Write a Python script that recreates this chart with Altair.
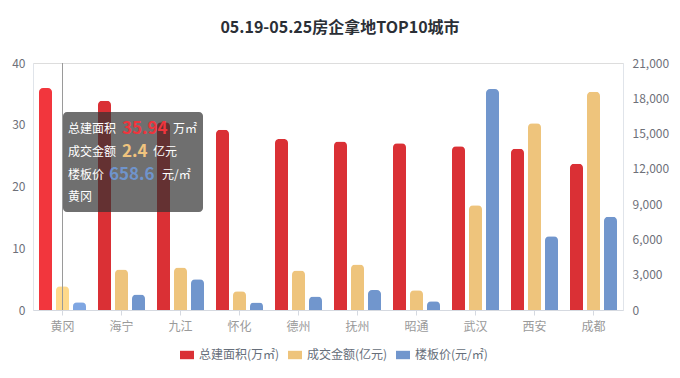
import altair as alt
import pandas as pd

cities = ["黄冈", "海宁", "九江", "怀化", "德州", "抚州", "昭通", "武汉", "西安", "成都"]
area = [35.94, 33.9, 30.4, 29.2, 27.7, 27.3, 27.0, 26.5, 26.1, 23.7]
amount = [2.4, 4.1, 4.3, 1.9, 4.0, 4.6, 2.0, 10.6, 18.9, 22.1]
price = [658.6, 1310, 2620, 630, 1140, 1700, 740, 18780, 6280, 7930]
series = ["总建面积(万㎡)", "成交金额(亿元)", "楼板价(元/㎡)"]
colors = ["#DA3035", "#EEC47C", "#7196CD"]
hover_colors = ["#F2363D", "#FFD98A", "#7FA6E2"]
hover_city = "黄冈"
tip_labels = ["总建面积", "成交金额", "楼板价"]
tip_values = ["35.94", "2.4", "658.6"]
tip_units = ["万㎡", "亿元", "元/㎡"]
title_text = "05.19-05.25房企拿地TOP10城市"

FONT = "Noto Sans CJK SC"
df = pd.DataFrame({"city": cities, "area": area, "amount": amount, "price": price})

x_enc = alt.X(
    "city:N", sort=cities, title=None,
    scale=alt.Scale(paddingInner=0, paddingOuter=0),
    axis=alt.Axis(labelAngle=0, labelColor="#9A9A9A", labelFontSize=12, labelPadding=6,
                  domainColor="#D5D9E0", tickColor="#D5D9E0", tickSize=5, labelFont=FONT),
)

color_scale = alt.Scale(domain=series, range=colors)
legend = alt.Legend(
    title=None, orient="none", legendX=147, legendY=285, direction="horizontal",
    symbolType="M-1,-0.6L1,-0.6L1,0.6L-1,0.6Z", symbolSize=196, symbolStrokeWidth=0,
    labelColor="#666E7A", labelFontSize=12, labelFont=FONT, columnPadding=8, labelOffset=5,
)


def bars(field, idx, domain, axis, offset):
    return alt.Chart(df).transform_calculate(series=f"'{series[idx]}'").mark_bar(
        width=13, xOffset=offset, cornerRadiusTopLeft=4, cornerRadiusTopRight=4
    ).encode(
        x=x_enc,
        y=alt.Y(f"{field}:Q", title=None, scale=alt.Scale(domain=domain, nice=False, zero=True), axis=axis),
        color=alt.condition(
            alt.datum.city == hover_city,
            alt.value(hover_colors[idx]),
            alt.Color("series:N", scale=color_scale, legend=legend),
        ),
    )


left_axis = alt.Axis(orient="left", values=[0, 10, 20, 30, 40], labelColor="#6E7079", labelFontSize=12,
                     ticks=False, domainColor="#E0E4EA", grid=False, labelPadding=8, labelFont=FONT)
right_axis = alt.Axis(orient="right", values=list(range(0, 21001, 3000)), format=",.0f", labelColor="#6E7079",
                      labelFontSize=12, ticks=False, domainColor="#E0E4EA", grid=False, labelPadding=9,
                      labelFont=FONT)

red = bars("area", 0, [0, 40], left_axis, -17)
gold = bars("amount", 1, [0, 25], None, 0)
blue = bars("price", 2, [0, 21000], right_axis, 17)

pointer = alt.Chart(df).transform_filter(alt.datum.city == hover_city).mark_rule(
    color="#9A9A9A", strokeWidth=1
).encode(x=x_enc, y=alt.value(0), y2=alt.value(247))

tip_box = alt.Chart(df).transform_filter(alt.datum.city == hover_city).mark_rect(
    color="#323232", opacity=0.7, cornerRadius=4
).encode(x=alt.value(30), x2=alt.value(170), y=alt.value(49), y2=alt.value(149))


def txt(text, x, y, color="#FFFFFF", size=12, weight="normal"):
    return alt.Chart(df).transform_filter(alt.datum.city == hover_city).mark_text(
        text=text, align="left", baseline="middle", color=color, fontSize=size,
        fontWeight=weight, font=FONT
    ).encode(x=alt.value(x), y=alt.value(y))


tips = [
    txt(tip_labels[0], 35, 65.5), txt(tip_values[0], 89, 65.5, "#EE353D", 17, "bold"), txt(tip_units[0], 140, 65.5),
    txt(tip_labels[1], 35, 89), txt(tip_values[1], 89, 89, "#F0C47E", 17, "bold"), txt(tip_units[1], 120, 89),
    txt(tip_labels[2], 35, 111.5), txt(tip_values[2], 76, 111.5, "#6F94CC", 17, "bold"), txt(tip_units[2], 129, 111.5),
    txt(hover_city, 35, 133.5),
]

chart = alt.layer(red, gold, blue, pointer, tip_box, *tips).resolve_scale(
    y="independent"
).properties(
    width=590, height=247,
    autosize=alt.AutoSizeParams(type="none"),
    padding={"left": 33, "top": 63, "right": 57, "bottom": 68},
    title=alt.TitleParams(title_text, fontSize=16, fontWeight="bold", color="#2B2F36", font=FONT,
                          anchor="middle", dx=12, offset=21),
).configure_view(stroke=None).configure(background="white")

chart.save("out.html", embed_options={"renderer": "svg", "actions": False})
